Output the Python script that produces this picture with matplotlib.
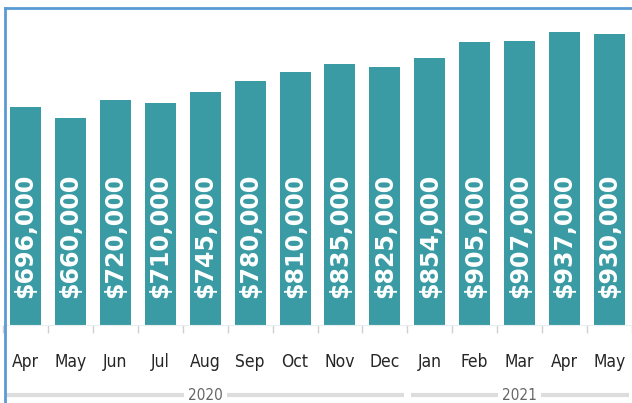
import matplotlib.pyplot as plt
from matplotlib.lines import Line2D
from matplotlib.transforms import blended_transform_factory

# monthly values
months = ["Apr", "May", "Jun", "Jul", "Aug", "Sep", "Oct", "Nov", "Dec",
          "Jan", "Feb", "Mar", "Apr", "May"]
values = [696000, 660000, 720000, 710000, 745000, 780000, 810000,
          835000, 825000, 854000, 905000, 907000, 937000, 930000]
years = ["2020", "2021"]
year_spans = [(0, 8), (9, 13)]

bar_color = "#3b9ba4"
narrow = dict(family="DejaVu Sans", stretch="condensed")

fig = plt.figure(figsize=(6.32, 4.03), dpi=100)
W, H = 632, 403
ax = fig.add_axes([3 / W, 78 / H, 629 / W, 317 / H])

x = list(range(len(values)))
ax.bar(x, values, width=0.69, color=bar_color, zorder=2)

# value labels written up the bars
for xi, v in zip(x, values):
    ax.text(xi, 86000, f"${v:,}", rotation=90, ha="center", va="bottom",
            color="white", fontsize=17, fontweight="bold", zorder=3)

ax.set_xlim(-0.5, 13.39)
ax.set_ylim(0, 1013000)

for s in ["top", "right", "left"]:
    ax.spines[s].set_visible(False)
ax.spines["bottom"].set_color("#e6eef0")
ax.set_yticks([])

ax.set_xticks(x)
ax.set_xticklabels(months, fontsize=12.5, color="#262626", **narrow)
ax.tick_params(axis="x", which="major", length=0, pad=20)
ax.set_xticks([i + 0.5 for i in range(-1, len(values))], minor=True)
ax.tick_params(axis="x", which="minor", length=6, color="#d0d0d0", width=1)

# year group rows
tr = blended_transform_factory(ax.transData, ax.transAxes)
for label, (a, b) in zip(years, year_spans):
    ax.plot([a - 0.43, b + 0.43], [-0.222, -0.222], transform=tr,
            color="#dddddd", lw=3, clip_on=False, solid_capstyle="butt")
    ax.text((a + b) / 2, -0.222, label, transform=tr, ha="center", va="center",
            fontsize=11, color="#666666",
            bbox=dict(facecolor="white", edgecolor="none", pad=3), **narrow)

# frame lines along top and left
fig.add_artist(Line2D([5 / W, 1], [1 - 8 / H, 1 - 8 / H], color="#5b9bd5", lw=2))
fig.add_artist(Line2D([5 / W, 5 / W], [0, 1 - 8 / H], color="#5b9bd5", lw=2))

fig.savefig("out.png", dpi=100)
